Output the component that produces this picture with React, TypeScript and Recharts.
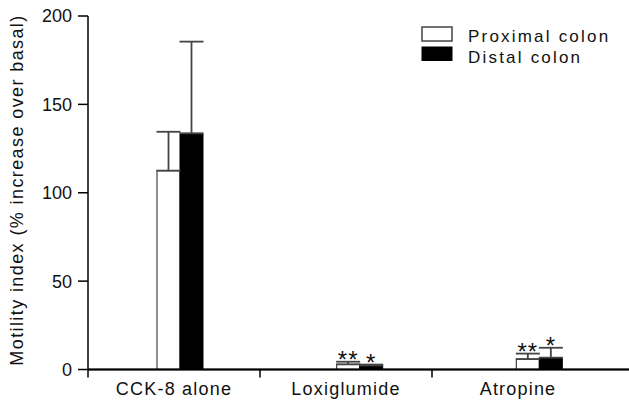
import React from 'react';
import { BarChart, Bar, XAxis, YAxis, ErrorBar, LabelList, Legend, ReferenceLine } from 'recharts';

const groups = ['CCK-8 alone', 'Loxiglumide', 'Atropine'];
const proximal = [112.5, 2.9, 5.9];
const proximalTop = [134.5, 4.4, 9];
const distal = [133.6, 2.3, 6.7];
const distalTop = [185.5, 2.8, 12.3];
const proximalMarks = ['', '**', '**'];
const distalMarks = ['', '*', '*'];
const yTicks = [0, 50, 100, 150, 200];

const data = groups.map((g, i) => ({
  group: g,
  proximal: proximal[i],
  proximalErr: [0, proximalTop[i] - proximal[i]],
  proximalMark: proximalMarks[i],
  distal: distal[i],
  distalErr: [0, distalTop[i] - distal[i]],
  distalMark: distalMarks[i],
}));

const FONT = '"Liberation Sans", Arial, Helvetica, sans-serif';

const GroupTick = (props: any) => {
  const { x, y, payload } = props;
  const half = payload && payload.offset ? payload.offset : 86;
  return (
    <g>
      <line x1={x - half} x2={x - half} y1={y - 12} y2={y - 4} stroke="#000" strokeWidth={1.5} />
      <text x={x} y={y + 13} textAnchor="middle" fontSize={18} letterSpacing={1.2} fill="#111" fontFamily={FONT}>
        {payload.value}
      </text>
    </g>
  );
};

// asterisks sit just above the error cap
const markContent = (values: number[], tops: number[]) => (props: any) => {
  const { x, y, width, height, value, index } = props;
  if (!value) return null;
  const v = values[index];
  const perUnit = v > 0 ? height / v : 0;
  const capY = y - (tops[index] - v) * perUnit;
  return (
    <text x={x + width / 2} y={capY + 6} textAnchor="middle" fontSize={24} letterSpacing={1} fill="#111" fontFamily={FONT}>
      {value}
    </text>
  );
};

const LegendBox = () => (
  <svg width={200} height={50}>
    <rect x={7} y={7} width={30} height={14} fill="#fff" stroke="#444" strokeWidth={1.5} />
    <text x={53} y={21.7} fontSize={17} letterSpacing={2.2} fill="#111" fontFamily={FONT}>Proximal colon</text>
    <rect x={7} y={27} width={30} height={13.5} fill="#000" stroke="#000" />
    <text x={53} y={43} fontSize={17} letterSpacing={2.2} fill="#111" fontFamily={FONT}>Distal colon</text>
  </svg>
);

const YLabel = () => (
  <text x={23} y={190} transform="rotate(-90, 23, 190)" textAnchor="middle" fontSize={18} letterSpacing={1.4} fill="#111" fontFamily={FONT}>
    Motility index (% increase over basal)
  </text>
);

export default function App() {
  return (
    <div style={{ position: 'absolute', left: 0, top: 0, background: '#fff' }}>
      <BarChart
        width={629}
        height={405}
        data={data}
        margin={{ top: 16, right: 0, bottom: 0, left: 0 }}
        barGap={0}
        barSize={23}
      >
        <XAxis
          xAxisId={0}
          dataKey="group"
          height={35.5}
          padding={{ left: 0, right: 25 }}
          stroke="#000"
          strokeWidth={1.5}
          tickLine={false}
          tickSize={8}
          tickMargin={4}
          tick={<GroupTick />}
          interval={0}
        />
        <XAxis xAxisId="bars" dataKey="group" hide height={0} padding={{ left: 2, right: 0 }} />
        <YAxis
          domain={[0, 200]}
          ticks={yTicks}
          width={88}
          stroke="#000"
          strokeWidth={1.5}
          tickSize={10}
          tickMargin={6}
          tick={{ fontSize: 18, fill: '#111', fontFamily: FONT }}
          label={<YLabel />}
        />
        {/* axis baseline, drawn explicitly so it sits on top */}
        <ReferenceLine y={0} xAxisId={0} stroke="#000" strokeWidth={2} />
        <Legend
          layout="vertical"
          align="center"
          verticalAlign="middle"
          wrapperStyle={{ left: 415, top: 20, width: 200, height: 50 }}
          content={<LegendBox />}
        />
        <Bar xAxisId="bars" dataKey="proximal" fill="#fff" stroke="#444" strokeWidth={1.2} isAnimationActive={false}>
          <ErrorBar dataKey="proximalErr" width={12} stroke="#444" strokeWidth={1.8} direction="y" />
          <LabelList dataKey="proximalMark" content={markContent(proximal, proximalTop)} />
        </Bar>
        <Bar xAxisId="bars" dataKey="distal" fill="#000" stroke="#000" strokeWidth={1} isAnimationActive={false}>
          <ErrorBar dataKey="distalErr" width={12} stroke="#444" strokeWidth={1.8} direction="y" />
          <LabelList dataKey="distalMark" content={markContent(distal, distalTop)} />
        </Bar>
      </BarChart>
    </div>
  );
}
